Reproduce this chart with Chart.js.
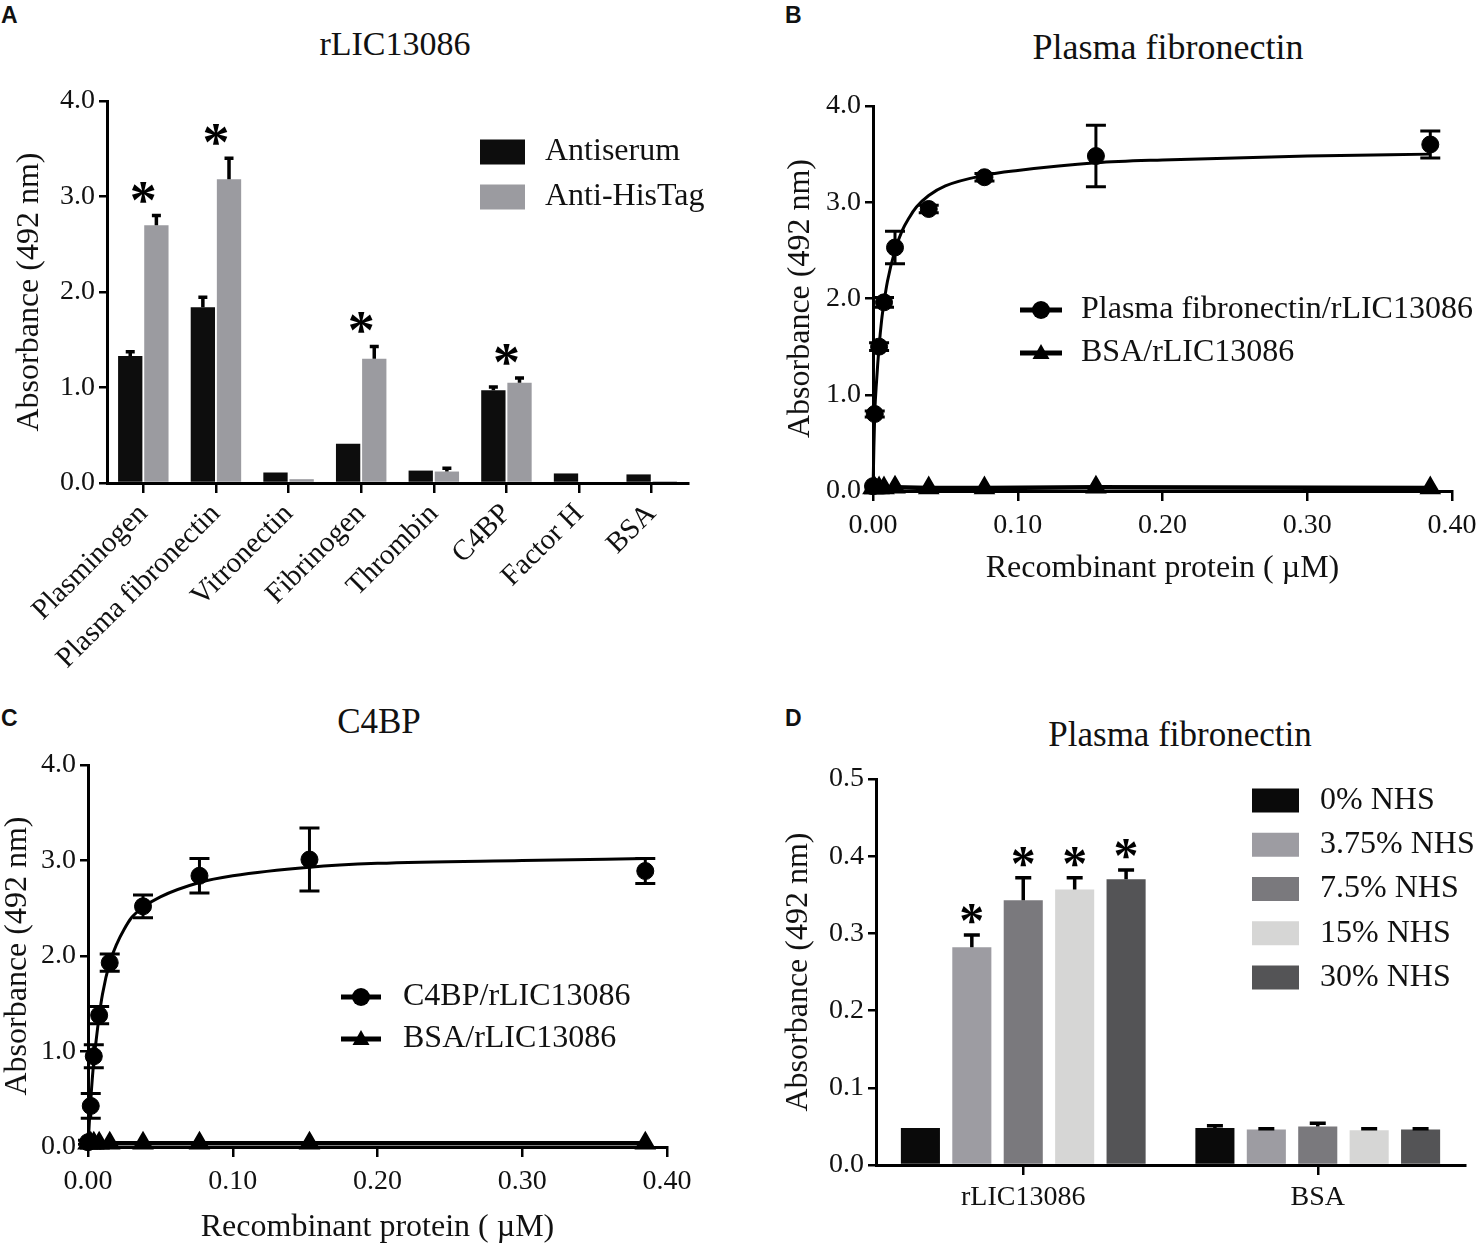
<!DOCTYPE html>
<html lang="en">
<head>
<meta charset="UTF-8">
<title>rLIC13086 binding assays</title>
<script src="https://cdn.jsdelivr.net/npm/chart.js"></script>
<style>
    body {
        margin: 0;
        width: 1476px;
        height: 1244px;
        position: relative;
        overflow: hidden;
        background: #fff;
        color: #111;
        font-family: "Liberation Serif", "Times New Roman", serif;
    }
    canvas { position: absolute; }
    .letter {
        position: absolute;
        font-family: "Liberation Sans", Arial, sans-serif;
        font-weight: bold;
        font-size: 23px;
        line-height: 1;
    }
    .title {
        position: absolute;
        width: 500px;
        font-size: 34px;
        line-height: 1;
        text-align: center;
    }
</style>
</head>
<body>

<div class="letter" style="left:1px;top:4px">A</div>
<div class="letter" style="left:785px;top:4px">B</div>
<div class="letter" style="left:1px;top:707px">C</div>
<div class="letter" style="left:785px;top:707px">D</div>

<div class="title" style="left:145px;top:27px">rLIC13086</div>
<div class="title" style="left:918px;top:29px;font-size:36px">Plasma fibronectin</div>
<div class="title" style="left:129px;top:704px;font-size:35px">C4BP</div>
<div class="title" style="left:930px;top:717px;font-size:35px">Plasma fibronectin</div>

<canvas id="chartA" width="740" height="640" style="left:0;top:60px"></canvas>
<canvas id="chartB" width="696" height="560" style="left:780px;top:60px"></canvas>
<canvas id="chartC" width="700" height="504" style="left:0;top:740px"></canvas>
<canvas id="chartD" width="696" height="484" style="left:780px;top:760px"></canvas>

<script>
// ---- A: binding of rLIC13086 to host components
const proteinsA = ['Plasminogen', 'Plasma fibronectin', 'Vitronectin', 'Fibrinogen', 'Thrombin', 'C4BP', 'Factor H', 'BSA'];
const antiserumA = [1.33, 1.84, 0.11, 0.41, 0.13, 0.97, 0.10, 0.09];
const antiserumErrA = [0.045, 0.105, 0, 0, 0, 0.035, 0, 0];
const antiHisTagA = [2.70, 3.18, 0.04, 1.30, 0.12, 1.05, 0, 0.02];
const antiHisTagErrA = [0.10, 0.22, 0, 0.13, 0.035, 0.05, 0, 0];
const significantA = [true, true, false, true, false, true, false, false];

// ---- B: plasma fibronectin dose response
const concB = [0, 0.0012, 0.0042, 0.0076, 0.0152, 0.0385, 0.077, 0.154, 0.385];
const fibronectinB = [0.05, 0.80, 1.50, 1.96, 2.53, 2.93, 3.26, 3.48, 3.60];
const fibronectinErrB = [0, 0.03, 0.04, 0.05, 0.17, 0.04, 0.04, 0.32, 0.14];
const bsaB = [0.03, 0.03, 0.03, 0.03, 0.04, 0.03, 0.03, 0.04, 0.03];
// fitted curve
const fitXB = [0, 0.0006, 0.0012, 0.0025, 0.0042, 0.006, 0.0076, 0.01, 0.0152, 0.02, 0.025, 0.03, 0.0385, 0.05, 0.077, 0.1, 0.154, 0.2, 0.3, 0.385];
const fitYB = [0, 0.45, 0.80, 1.15, 1.50, 1.78, 1.96, 2.18, 2.50, 2.70, 2.84, 2.95, 3.07, 3.17, 3.28, 3.33, 3.41, 3.44, 3.48, 3.50];

// ---- C: C4BP dose response
const concC = [0, 0.0019, 0.004, 0.0077, 0.015, 0.038, 0.077, 0.153, 0.385];
const c4bpC = [0.05, 0.43, 0.95, 1.38, 1.93, 2.52, 2.84, 3.01, 2.89];
const c4bpErrC = [0.02, 0.13, 0.12, 0.09, 0.09, 0.12, 0.18, 0.33, 0.13];
const bsaC = [0.04, 0.04, 0.04, 0.04, 0.04, 0.04, 0.04, 0.04, 0.04];
const fitXC = [0, 0.001, 0.0019, 0.003, 0.004, 0.0055, 0.0077, 0.01, 0.015, 0.02, 0.025, 0.03, 0.038, 0.05, 0.077, 0.1, 0.153, 0.2, 0.3, 0.385];
const fitYC = [0, 0.28, 0.50, 0.72, 0.90, 1.10, 1.37, 1.60, 1.93, 2.13, 2.28, 2.40, 2.51, 2.62, 2.77, 2.84, 2.93, 2.97, 3.00, 3.02];

// ---- D: plasma fibronectin with NHS
const groupsD = ['rLIC13086', 'BSA'];
const nhsLabelsD = ['0% NHS', '3.75% NHS', '7.5% NHS', '15% NHS', '30% NHS'];
const nhs0D = [0.048, 0.048];
const nhs375D = [0.282, 0.046];
const nhs75D = [0.343, 0.050];
const nhs15D = [0.357, 0.045];
const nhs30D = [0.370, 0.046];
const nhs0ErrD = [0, 0.003];
const nhs375ErrD = [0.016, 0.001];
const nhs75ErrD = [0.029, 0.004];
const nhs15ErrD = [0.015, 0.002];
const nhs30ErrD = [0.012, 0.001];
const significantD = [[false, false], [true, false], [true, false], [true, false], [true, false]];

const nhsColors = ['#0a0a0a', '#9d9ca2', '#7a797d', '#d6d6d5', '#545456'];

Chart.defaults.font.family = '"Liberation Serif", "Times New Roman", serif';
Chart.defaults.color = '#111';
Chart.defaults.animation = false;
Chart.defaults.plugins.legend.display = false;
Chart.defaults.plugins.tooltip.enabled = false;

const SERIF = '"Liberation Serif", "Times New Roman", serif';

function yAxis(max, step, digits, width, titlePad) {
    return {
        min: 0, max: max,
        ticks: { stepSize: step, font: { size: 28 }, padding: 4, callback: v => Number(v).toFixed(digits) },
        grid: { drawOnChartArea: false, tickLength: 8, color: '#000', lineWidth: 2.5 },
        border: { color: '#000', width: 3 },
        title: { display: true, text: 'Absorbance (492 nm)', font: { size: 32, lineHeight: 1.1 }, padding: { top: titlePad, bottom: 0 } },
        afterFit: s => { s.width = width; s.paddingTop = 0; s.paddingBottom = 0; }
    };
}

function xCategory(height, fontSize, rotation, pad) {
    return {
        type: 'category', offset: true,
        grid: { offset: false, drawOnChartArea: false, tickLength: 10, color: '#000', lineWidth: 2.5 },
        border: { color: '#000', width: 3 },
        ticks: { font: { size: fontSize }, minRotation: rotation, maxRotation: rotation, autoSkip: false, padding: pad },
        afterFit: s => { s.height = height; s.paddingLeft = 0; s.paddingRight = 0; }
    };
}

function xConc(height, titlePad, titleLH) {
    return {
        type: 'linear', min: 0, max: 0.4,
        ticks: { stepSize: 0.1, font: { size: 28 }, padding: 8, callback: v => Number(v).toFixed(2) },
        grid: { drawOnChartArea: false, tickLength: 10, color: '#000', lineWidth: 2.5 },
        border: { color: '#000', width: 3 },
        title: { display: true, text: 'Recombinant protein ( \u00b5M)', font: { size: 32, lineHeight: titleLH }, padding: { top: 0, bottom: titlePad } },
        afterFit: s => { s.height = height; s.paddingLeft = 0; s.paddingRight = 0; }
    };
}

// error bar going up from the top of each bar
function errorsUp(ctx, meta, vals, errs, ys, cap) {
    ctx.save();
    ctx.strokeStyle = '#000';
    ctx.lineWidth = 3.5;
    meta.data.forEach((bar, i) => {
        if (!errs[i]) return;
        const y0 = ys.getPixelForValue(vals[i]);
        const y1 = ys.getPixelForValue(vals[i] + errs[i]);
        ctx.beginPath();
        ctx.moveTo(bar.x, y0); ctx.lineTo(bar.x, y1);
        ctx.moveTo(bar.x - cap, y1); ctx.lineTo(bar.x + cap, y1);
        ctx.stroke();
    });
    ctx.restore();
}

// symmetric error bars for the dose response points
function errorsBoth(ctx, xs, ys, xv, vals, errs, cap) {
    ctx.save();
    ctx.strokeStyle = '#000';
    ctx.lineWidth = 3;
    xv.forEach((x, i) => {
        if (!errs[i]) return;
        const px = xs.getPixelForValue(x);
        const yT = ys.getPixelForValue(vals[i] + errs[i]);
        const yB = ys.getPixelForValue(vals[i] - errs[i]);
        ctx.beginPath();
        ctx.moveTo(px, yT); ctx.lineTo(px, yB);
        ctx.moveTo(px - cap, yT); ctx.lineTo(px + cap, yT);
        ctx.moveTo(px - cap, yB); ctx.lineTo(px + cap, yB);
        ctx.stroke();
    });
    ctx.restore();
}

function star(ctx, x, yCenter, size) {
    ctx.save();
    ctx.fillStyle = '#000';
    ctx.font = 'bold ' + size + 'px ' + SERIF;
    ctx.textAlign = 'center';
    ctx.textBaseline = 'alphabetic';
    ctx.fillText('*', x, yCenter + 0.5 * size);
    ctx.restore();
}

function label(ctx, text, x, y) {
    ctx.save();
    ctx.fillStyle = '#111';
    ctx.font = '32px ' + SERIF;
    ctx.textAlign = 'left';
    ctx.textBaseline = 'middle';
    ctx.fillText(text, x, y);
    ctx.restore();
}

function swatch(ctx, x, yMid, w, h, color, text, tx) {
    ctx.save();
    ctx.fillStyle = color;
    ctx.fillRect(x, yMid - h / 2, w, h);
    ctx.restore();
    label(ctx, text, tx, yMid);
}

function lineKey(ctx, x1, x2, y, shape, text, tx) {
    ctx.save();
    ctx.strokeStyle = '#000';
    ctx.fillStyle = '#000';
    ctx.lineWidth = 5;
    ctx.beginPath(); ctx.moveTo(x1, y); ctx.lineTo(x2, y); ctx.stroke();
    const cx = (x1 + x2) / 2;
    ctx.beginPath();
    if (shape === 'circle') {
        ctx.arc(cx, y, 9, 0, Math.PI * 2);
    } else {
        ctx.moveTo(cx, y - 9); ctx.lineTo(cx + 8.5, y + 6); ctx.lineTo(cx - 8.5, y + 6); ctx.closePath();
    }
    ctx.fill();
    ctx.restore();
    label(ctx, text, tx, y);
}

function pts(xv, yv) {
    return xv.map((x, i) => ({ x: x, y: yv[i] }));
}

// ---- A
new Chart(document.getElementById('chartA'), {
    type: 'bar',
    data: {
        labels: proteinsA,
        datasets: [
            { label: 'Antiserum', data: antiserumA, backgroundColor: '#0d0d0d' },
            { label: 'Anti-HisTag', data: antiHisTagA, backgroundColor: '#9b9ba0' }
        ]
    },
    options: {
        responsive: false,
        layout: { padding: { left: 8, top: 41, right: 52, bottom: 0 } },
        datasets: { bar: { categoryPercentage: 0.72, barPercentage: 0.93, borderWidth: 0 } },
        scales: { x: xCategory(217, 29, 45, 4), y: yAxis(4, 1, 1, 99, 4) }
    },
    plugins: [{
        id: 'marksA',
        afterDatasetsDraw(chart) {
            const ctx = chart.ctx, xs = chart.scales.x, ys = chart.scales.y;
            errorsUp(ctx, chart.getDatasetMeta(0), antiserumA, antiserumErrA, ys, 4.5);
            errorsUp(ctx, chart.getDatasetMeta(1), antiHisTagA, antiHisTagErrA, ys, 4.5);
            significantA.forEach((s, i) => {
                if (!s) return;
                const top = Math.max(antiserumA[i] + antiserumErrA[i], antiHisTagA[i] + antiHisTagErrA[i]);
                star(ctx, xs.getPixelForValue(i), ys.getPixelForValue(top) - 25, 54);
            });
            swatch(ctx, 480, 92, 45, 25, '#0d0d0d', 'Antiserum', 545);
            swatch(ctx, 480, 137, 45, 25, '#9b9ba0', 'Anti-HisTag', 545);
        }
    }]
});

// ---- B and C share the same layout
function doseChart(id, conc, vals, errs, bsa, fitX, fitY, opts) {
    new Chart(document.getElementById(id), {
        type: 'scatter',
        data: {
            datasets: [
                { label: opts.name, data: pts(conc, vals), showLine: false, pointStyle: 'circle', pointRadius: 8.5,
                  backgroundColor: '#000', borderColor: '#000', order: 0, clip: false },
                { label: 'fit', data: pts(fitX, fitY), showLine: true, pointRadius: 0, borderColor: '#000',
                  borderWidth: 3, cubicInterpolationMode: 'monotone', order: 1, clip: false },
                { label: 'BSA/rLIC13086', data: pts(conc, bsa), showLine: true, pointStyle: 'triangle', pointRadius: 8,
                  backgroundColor: '#000', borderColor: '#000', borderWidth: 4.5, order: 2, clip: false }
            ]
        },
        options: {
            responsive: false,
            layout: { padding: opts.padding },
            scales: {
                x: xConc(opts.xHeight, opts.titlePad, opts.titleLH),
                y: yAxis(4, 1, 1, opts.yWidth, 0)
            }
        },
        plugins: [{
            id: 'marks' + id,
            afterDatasetsDraw(chart) {
                const ctx = chart.ctx;
                errorsBoth(ctx, chart.scales.x, chart.scales.y, conc, vals, errs, 10);
                lineKey(ctx, opts.key[0], opts.key[1], opts.key[2], 'circle', opts.name, opts.key[4]);
                lineKey(ctx, opts.key[0], opts.key[1], opts.key[3], 'triangle', 'BSA/rLIC13086', opts.key[4]);
            }
        }]
    });
}

doseChart('chartB', concB, fibronectinB, fibronectinErrB, bsaB, fitXB, fitYB, {
    name: 'Plasma fibronectin/rLIC13086',
    padding: { left: 3, top: 46, right: 24, bottom: 0 },
    yWidth: 90, xHeight: 129, titlePad: 32, titleLH: 1.2,
    key: [240, 282, 250, 293, 301]
});

doseChart('chartC', concC, c4bpC, c4bpErrC, bsaC, fitXC, fitYC, {
    name: 'C4BP/rLIC13086',
    padding: { left: 0, top: 25, right: 33, bottom: 0 },
    yWidth: 88, xHeight: 97, titlePad: 0, titleLH: 1.0,
    key: [341, 381, 257, 299, 403]
});

// ---- D
const seriesD = [nhs0D, nhs375D, nhs75D, nhs15D, nhs30D];
const errorsD = [nhs0ErrD, nhs375ErrD, nhs75ErrD, nhs15ErrD, nhs30ErrD];

new Chart(document.getElementById('chartD'), {
    type: 'bar',
    data: {
        labels: groupsD,
        datasets: seriesD.map((d, k) => ({ label: nhsLabelsD[k], data: d, backgroundColor: nhsColors[k] }))
    },
    options: {
        responsive: false,
        layout: { padding: { left: 1, top: 19, right: 11, bottom: 0 } },
        datasets: { bar: { categoryPercentage: 0.873, barPercentage: 0.76, borderWidth: 0 } },
        scales: { x: xCategory(79, 28, 0, 6), y: yAxis(0.5, 0.1, 1, 95, 0) }
    },
    plugins: [{
        id: 'marksD',
        afterDatasetsDraw(chart) {
            const ctx = chart.ctx, ys = chart.scales.y;
            seriesD.forEach((d, k) => {
                const meta = chart.getDatasetMeta(k);
                errorsUp(ctx, meta, d, errorsD[k], ys, 8);
                meta.data.forEach((bar, i) => {
                    if (significantD[k][i]) star(ctx, bar.x, ys.getPixelForValue(d[i] + errorsD[k][i]) - 23, 50);
                });
            });
            nhsLabelsD.forEach((t, k) => {
                swatch(ctx, 472, 40.5 + 44.25 * k, 47, 24, nhsColors[k], t, 540);
            });
        }
    }]
});
</script>
</body>
</html>
